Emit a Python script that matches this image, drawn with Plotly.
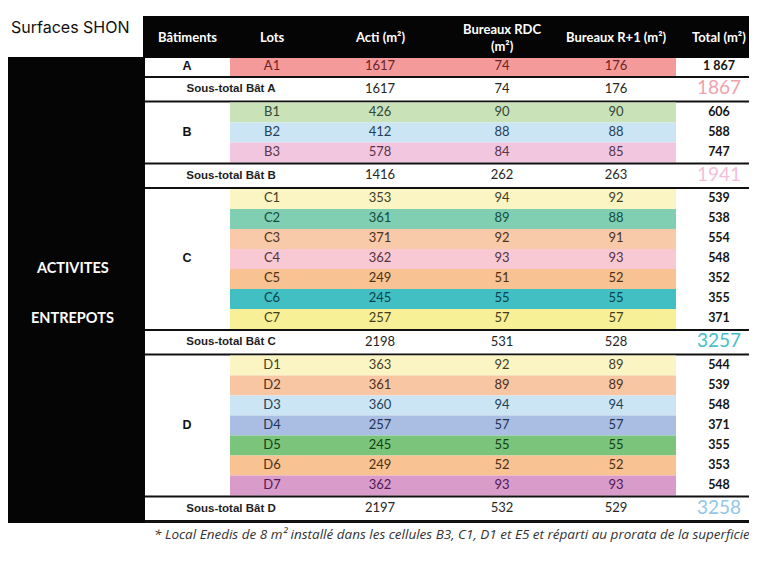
import plotly.graph_objects as go

# Données du tableau des surfaces SHON
batiments = ["A", "B", "C", "D"]
lots = ["A1", "B1", "B2", "B3",
        "C1", "C2", "C3", "C4", "C5", "C6", "C7",
        "D1", "D2", "D3", "D4", "D5", "D6", "D7"]
acti = [1617, 426, 412, 578, 353, 361, 371, 362, 249, 245, 257,
        363, 361, 360, 257, 245, 249, 362]
bureaux_rdc = [74, 90, 88, 84, 94, 89, 92, 93, 51, 55, 57,
               92, 89, 94, 57, 55, 52, 93]
bureaux_r1 = [176, 90, 88, 85, 92, 88, 91, 93, 52, 55, 57,
              89, 89, 94, 57, 55, 52, 93]
total = ["1 867", "606", "588", "747", "539", "538", "554", "548", "352", "355", "371",
         "544", "539", "548", "371", "355", "353", "548"]
sous_acti = [1617, 1416, 2198, 2197]
sous_rdc = [74, 262, 531, 532]
sous_r1 = [176, 263, 528, 529]
sous_total = [1867, 1941, 3257, 3258]
colonnes = ["Bâtiments", "Lots", "Acti (m²)", "Bureaux RDC<br>(m²)", "Bureaux R+1 (m²)", "Total (m²)"]

# couleurs des lignes
couleurs_lots = ["#f59a9b", "#c9e2b8", "#cbe5f5", "#f1c6de",
                 "#fbf5c3", "#80cfb3", "#f8caa9", "#f8c9d3", "#f8c293", "#42bfc3", "#f8f096",
                 "#fbf5c3", "#f8c6a3", "#cbe5f5", "#aabde2", "#7ac47c", "#f8c293", "#d99bca"]
texte_lots = ["#6a2424", "#33473a", "#1f4058", "#56344e",
              "#423e28", "#134c3e", "#4c3020", "#56303c", "#4c3012", "#0a424c", "#423e18",
              "#423e28", "#4c3020", "#1f4058", "#223454", "#124214", "#4c3012", "#521852"]
couleurs_sous_total = ["#f0a2aa", "#f3bddb", "#46bfc9", "#92c7e8"]

# géométrie (pixels de la page ; la page a une marge de 8 px)
OFF = 8
X_BAT = (145, 230)
X_LOT = (230, 676)
X_TOT = (676, 757)
X_COL = [187, 272, 380, 502, 616, 719]
H_LOT, H_SUB, H_LINE = 20, 22.5, 2

BODY = "Lato"
ARIAL = "Liberation Sans"

fig = go.Figure()
shapes = []
annotations = []


def rect(x0, x1, y0, y1, color):
    shapes.append(dict(type="rect", xref="x", yref="y", x0=x0, x1=x1, y0=y0, y1=y1,
                       fillcolor=color, line=dict(width=0), layer="below"))


# fonds noirs
rect(143, 770, 16, 58, "#050505")
rect(0, 145, 57, 523, "#050505")

lot_y, sub_y, bat_y = [], [], []
y = 58
for g, b in enumerate(batiments):
    idx = [i for i, l in enumerate(lots) if l.startswith(b)]
    top = y
    for i in idx:
        h = H_LOT - 2 if i == 0 else H_LOT
        rect(X_LOT[0], X_LOT[1], y, y + h, couleurs_lots[i])
        lot_y.append(y + h / 2)
        y += h
    bat_y.append((top + y) / 2)
    rect(X_BAT[0], 770, y, y + H_LINE, "#111111")
    y += H_LINE
    sub_y.append(y + H_SUB / 2)
    y += H_SUB
    rect(X_BAT[0], 770, y, y + H_LINE + (1 if g == 3 else 0), "#111111")
    y += H_LINE

# valeurs des lots
for col, vals in zip(X_COL[1:5], [lots, acti, bureaux_rdc, bureaux_r1]):
    fig.add_trace(go.Scatter(x=[col] * len(vals), y=lot_y, mode="text",
                             text=[str(v) for v in vals],
                             textfont=dict(family=BODY, size=13, color=texte_lots),
                             hoverinfo="skip", showlegend=False))
fig.add_trace(go.Scatter(x=[X_COL[5]] * len(total), y=lot_y, mode="text", text=total,
                         textfont=dict(family=BODY, size=12.5, color="#151515", weight="bold"),
                         hoverinfo="skip", showlegend=False))

# bâtiments
fig.add_trace(go.Scatter(x=[X_COL[0]] * len(batiments), y=bat_y, mode="text", text=batiments,
                         textfont=dict(family=ARIAL, size=12.5, color="#111111", weight="bold"),
                         hoverinfo="skip", showlegend=False))

# sous-totaux
fig.add_trace(go.Scatter(x=[231] * len(batiments), y=sub_y, mode="text",
                         text=["Sous-total Bât " + b for b in batiments],
                         textfont=dict(family=ARIAL, size=11.5, color="#1e1e1e", weight="bold"),
                         hoverinfo="skip", showlegend=False))
for col, vals in zip(X_COL[2:5], [sous_acti, sous_rdc, sous_r1]):
    fig.add_trace(go.Scatter(x=[col] * len(vals), y=sub_y, mode="text",
                             text=[str(v) for v in vals],
                             textfont=dict(family=BODY, size=13, color="#262626"),
                             hoverinfo="skip", showlegend=False))
fig.add_trace(go.Scatter(x=[X_COL[5]] * len(sous_total), y=sub_y, mode="text",
                         text=[str(v) for v in sous_total],
                         textfont=dict(family=BODY, size=19, color=couleurs_sous_total),
                         hoverinfo="skip", showlegend=False))

# en-têtes
for col, lab in zip(X_COL, colonnes):
    annotations.append(dict(x=col, y=37, xref="x", yref="y",
                            text=lab, showarrow=False,
                            font=dict(family=BODY, size=13, color="white", weight="bold")))

annotations += [
    dict(x=9, y=27, xref="x", yref="y", xanchor="left", text="Surfaces SHON", showarrow=False,
         font=dict(family="Inter", size=16, color="#111111")),
    dict(x=72, y=267, xref="x", yref="y", text="ACTIVITES", showarrow=False,
         font=dict(family=BODY, size=14.5, color="white", weight="bold")),
    dict(x=72, y=317, xref="x", yref="y", text="ENTREPOTS", showarrow=False,
         font=dict(family=BODY, size=14.5, color="white", weight="bold")),
    dict(x=452, y=534, xref="x", yref="y",
         text="* Local Enedis de 8 m² installé dans les cellules B3, C1, D1 et E5 et réparti au prorata de la superficie",
         showarrow=False, font=dict(family="Open Sans", size=13.5, color="#333333", style="italic")),
]

fig.update_layout(
    width=757, height=568,
    margin=dict(l=0, r=0, t=0, b=0),
    paper_bgcolor="white", plot_bgcolor="white",
    xaxis=dict(range=[OFF, 757 + OFF], visible=False, fixedrange=True),
    yaxis=dict(range=[568 + OFF, OFF], visible=False, fixedrange=True),
    shapes=shapes, annotations=annotations,
)

fig.write_html("out.html")
